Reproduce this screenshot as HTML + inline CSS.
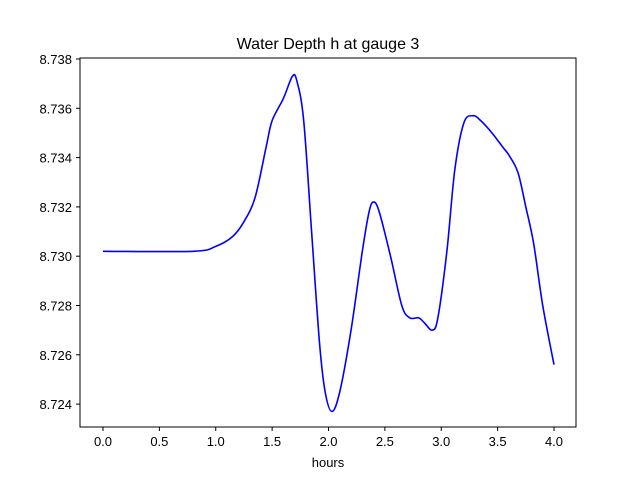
<!DOCTYPE html>
<html><head><meta charset="utf-8"><style>body{margin:0;background:#fff}svg{display:block;font-family:"Liberation Sans","DejaVu Sans",sans-serif}</style></head>
<body>
<svg id="chart" width="640" height="480">
<rect x="0" y="0" width="640" height="480" fill="#fff"/>
<text x="328" y="49" text-anchor="middle" font-size="16">Water Depth h at gauge 3</text>
<g id="xt"></g>
<g id="yt"></g>
<path id="line" fill="none" stroke="#0000ff" stroke-width="1.6"/>
<rect x="80" y="58" width="496" height="369" fill="none" stroke="#000" stroke-width="1"/>
<text x="328" y="467" text-anchor="middle" font-size="13">hours</text>
</svg>
<script>
const hours=[0,0.8,1.0,1.15,1.25,1.35,1.45,1.5,1.6,1.68,1.72,1.78,1.85,1.92,1.97,2.03,2.1,2.2,2.3,2.36,2.4,2.45,2.55,2.65,2.72,2.8,2.85,2.92,2.97,3.05,3.12,3.2,3.28,3.35,3.45,3.55,3.6,3.68,3.75,3.82,3.9,4.0];
const depth=[8.7302,8.7302,8.7304,8.7308,8.7314,8.7324,8.7345,8.7355,8.7364,8.7373,8.7371,8.7355,8.731,8.7265,8.7245,8.7237,8.7245,8.727,8.7302,8.7318,8.7322,8.7318,8.730,8.728,8.7275,8.7275,8.7273,8.727,8.7275,8.7302,8.7335,8.7354,8.7357,8.7355,8.735,8.7344,8.7341,8.7334,8.732,8.7305,8.728,8.7256];
const xTicks=[0,0.5,1,1.5,2,2.5,3,3.5,4];
const xLabels=["0.0","0.5","1.0","1.5","2.0","2.5","3.0","3.5","4.0"];
const yTicks=[8.724,8.726,8.728,8.730,8.732,8.734,8.736,8.738];
const yLabels=["8.724","8.726","8.728","8.730","8.732","8.734","8.736","8.738"];
const X=h=>103+h*112.75;
const Y=v=>59+(8.738-v)/0.002*49.3;
const NS="http://www.w3.org/2000/svg";
const xt=document.getElementById('xt'),yt=document.getElementById('yt');
xTicks.forEach((t,i)=>{
 const l=document.createElementNS(NS,'line');
 
 
 l.setAttribute('x1',X(t));l.setAttribute('x2',X(t));l.setAttribute('y1',427);l.setAttribute('y2',431);l.setAttribute('stroke','#000');
 xt.appendChild(l);
 const s=document.createElementNS(NS,'text');
 
 
 s.setAttribute('x',X(t));s.setAttribute('y',446);s.setAttribute('text-anchor','middle');s.setAttribute('font-size','13');
 s.textContent=xLabels[i];xt.appendChild(s);
});
yTicks.forEach((t,i)=>{
 const l=document.createElementNS(NS,'line');
 
 
 l.setAttribute('x1',76);l.setAttribute('x2',80);l.setAttribute('y1',Y(t));l.setAttribute('y2',Y(t));l.setAttribute('stroke','#000');
 yt.appendChild(l);
 const s=document.createElementNS(NS,'text');
 
 
 s.setAttribute('x',72);s.setAttribute('y',Y(t)+5);s.setAttribute('text-anchor','end');s.setAttribute('font-size','13');
 s.textContent=yLabels[i];yt.appendChild(s);
});
// smooth path via Catmull-Rom
const P=hours.map((h,i)=>[X(h),Y(depth[i])]);
let d=`M${P[0][0]},${P[0][1]}`;
for(let i=0;i<P.length-1;i++){
 const p0=P[Math.max(0,i-1)],p1=P[i],p2=P[i+1],p3=P[Math.min(P.length-1,i+2)];
 const c1=[p1[0]+(p2[0]-p0[0])/6,p1[1]+(p2[1]-p0[1])/6];
 const c2=[p2[0]-(p3[0]-p1[0])/6,p2[1]-(p3[1]-p1[1])/6];
 d+=` C${c1[0]},${c1[1]} ${c2[0]},${c2[1]} ${p2[0]},${p2[1]}`;
}
document.getElementById('line').setAttribute('d',d);
</script>
</body></html>
